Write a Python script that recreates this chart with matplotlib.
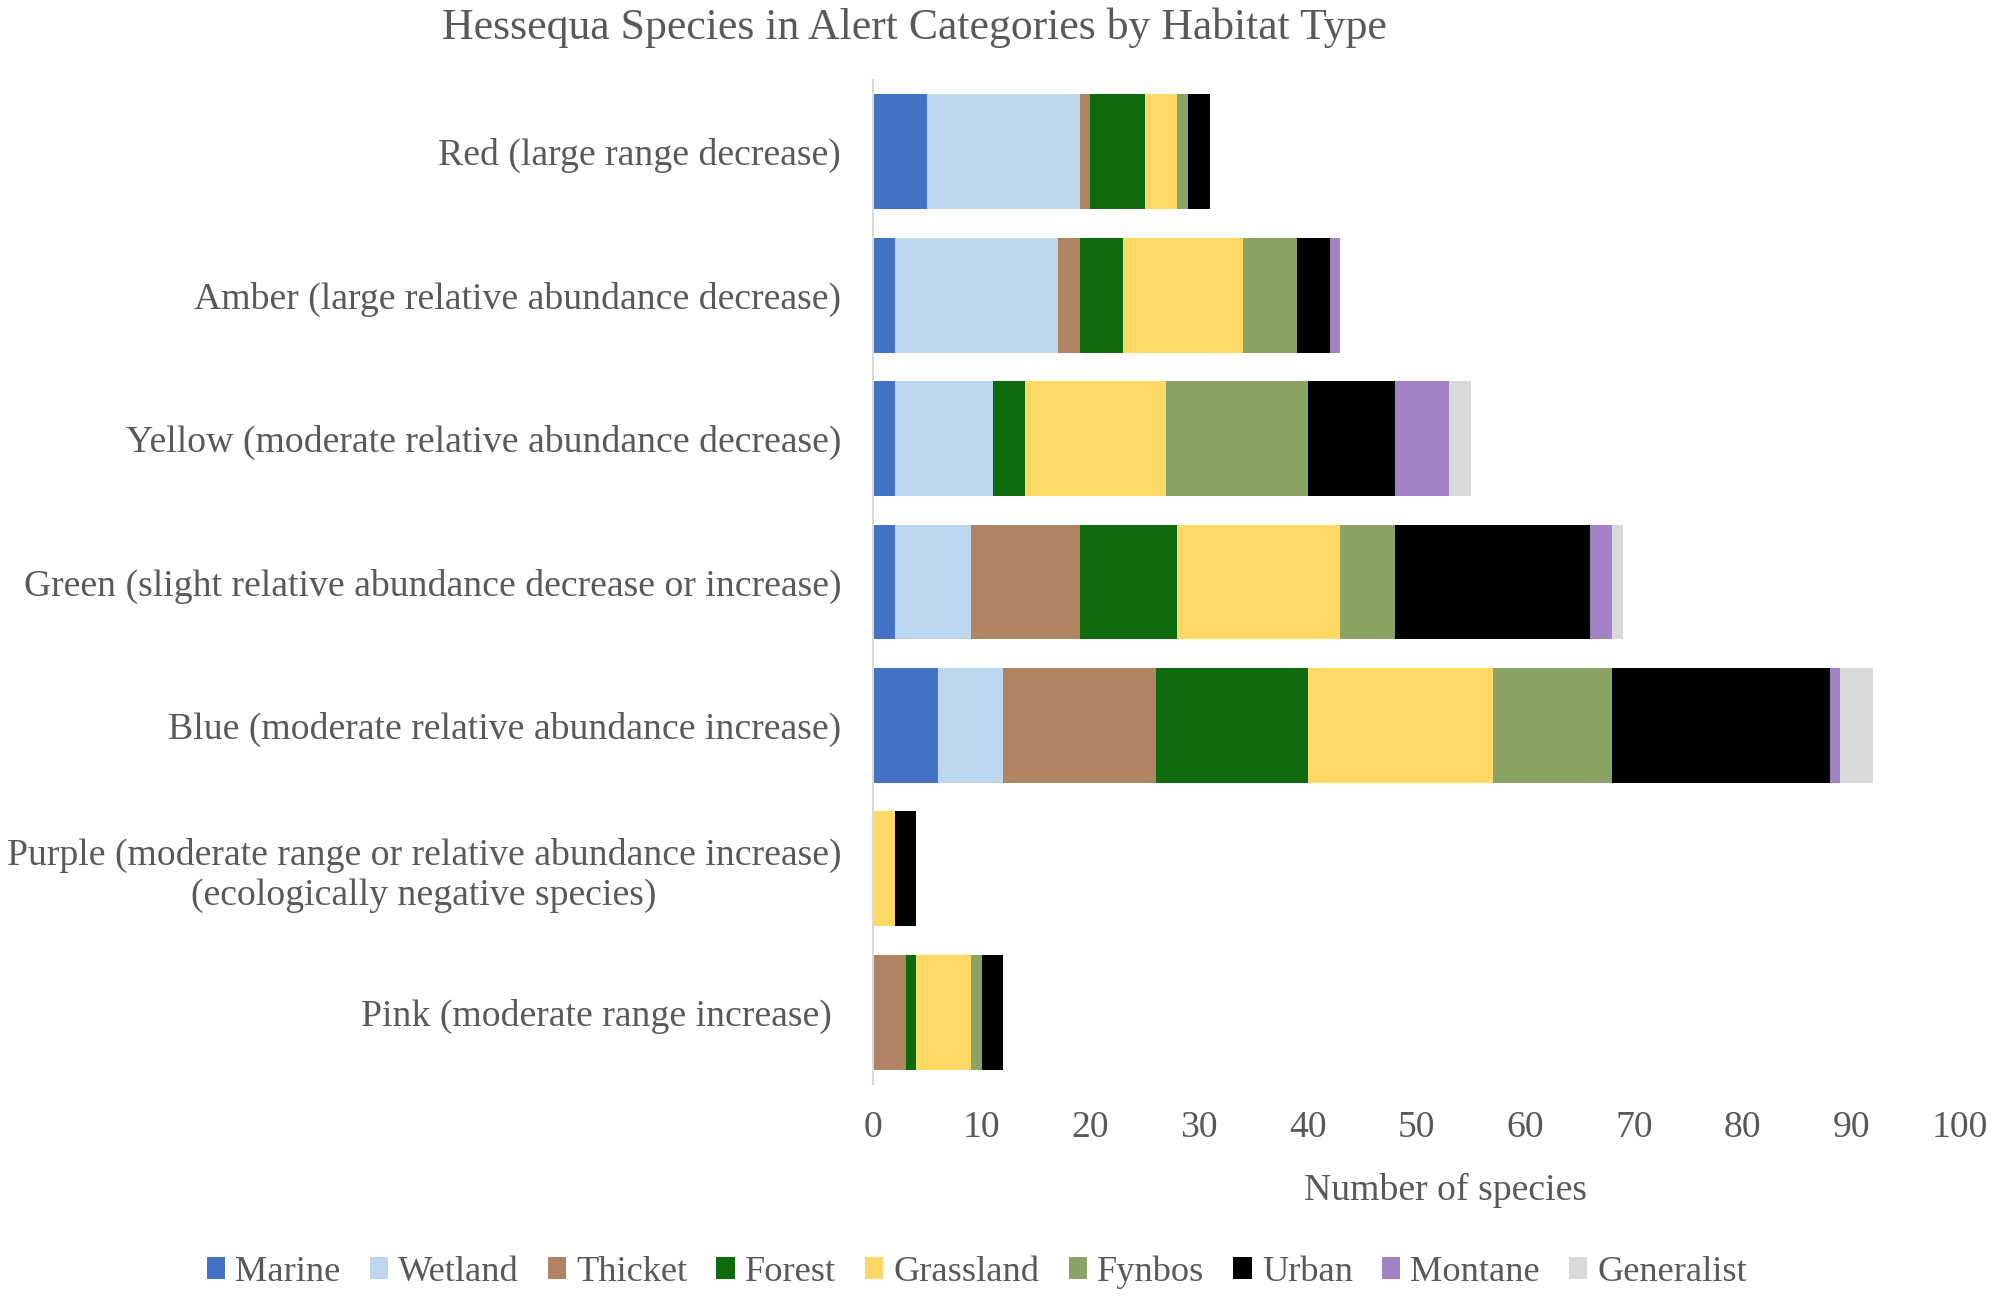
import matplotlib
matplotlib.use("Agg")
import matplotlib.pyplot as plt
from matplotlib.patches import Patch
import numpy as np

# Alert categories, top to bottom
categories = [
    "Red (large range decrease)",
    "Amber (large relative abundance decrease)",
    "Yellow (moderate relative abundance decrease)",
    "Green (slight relative abundance decrease or increase)",
    "Blue (moderate relative abundance increase)",
    "Purple (moderate range or relative abundance increase)\n(ecologically negative species)",
    "Pink (moderate range increase) ",
]

habitats = ["Marine", "Wetland", "Thicket", "Forest", "Grassland",
            "Fynbos", "Urban", "Montane", "Generalist"]

marine = [5, 2, 2, 2, 6, 0, 0]
wetland = [14, 15, 9, 7, 6, 0, 0]
thicket = [1, 2, 0, 10, 14, 0, 3]
forest = [5, 4, 3, 9, 14, 0, 1]
grassland = [3, 11, 13, 15, 17, 2, 5]
fynbos = [1, 5, 13, 5, 11, 0, 1]
urban = [2, 3, 8, 18, 20, 2, 2]
montane = [0, 1, 5, 2, 1, 0, 0]
generalist = [0, 0, 2, 1, 3, 0, 0]

series = [marine, wetland, thicket, forest, grassland,
          fynbos, urban, montane, generalist]
colors = ["#4472C4", "#BDD7EE", "#B08462", "#0E6B0E", "#FFD966",
          "#88A363", "#000000", "#A382C4", "#D9D9D9"]

text_color = "#595959"
plt.rcParams['font.family'] = ['Liberation Serif', 'DejaVu Serif']

W, H = 1999, 1301
fig = plt.figure(figsize=(W / 100, H / 100), dpi=100)
ax = fig.add_axes([873 / W, 1 - 1084 / H, 1087 / W, (1084 - 80) / H])

y = np.arange(len(categories))
left = np.zeros(len(categories))
for name, vals, col in zip(habitats, series, colors):
    vals = np.array(vals, dtype=float)
    ax.barh(y, vals, left=left, height=0.8, color=col, label=name)
    left += vals

ax.set_ylim(len(categories) - 0.5, -0.5)
ax.set_xlim(0, 100)
ax.set_xticks(np.arange(0, 101, 10))
ax.set_yticks(y)
ax.set_yticklabels(categories, multialignment='center')

for s in ['top', 'right', 'bottom']:
    ax.spines[s].set_visible(False)
ax.spines['left'].set_color('#D9D9D9')
ax.spines['left'].set_linewidth(1.5)

ax.tick_params(axis='y', length=0, pad=23, labelsize=27.2, labelcolor=text_color)
ax.tick_params(axis='x', length=0, pad=19, labelsize=27.2, labelcolor=text_color)

ax.set_xlabel("Number of species", fontsize=27.2, color=text_color)
ax.xaxis.set_label_coords((1446 - 873) / 1087, 1 - (1190 - 80) / (1084 - 80))
ax.xaxis.label.set_verticalalignment('center')

fig.text(914 / W, 1 - 28 / H, "Hessequa Species in Alert Categories by Habitat Type",
         ha='center', va='center', fontsize=31.5, color=text_color)

handles = [Patch(facecolor=c, edgecolor='none') for c in colors]
fig.legend(handles, habitats, loc='center', ncol=9, frameon=False,
           bbox_to_anchor=(977 / W, 1 - 1272 / H),
           prop={'size': 26.2}, labelcolor=text_color,
           handlelength=0.5, handleheight=0.53, handletextpad=0.28,
           columnspacing=0.8)

fig.savefig("out.png", dpi=100)
